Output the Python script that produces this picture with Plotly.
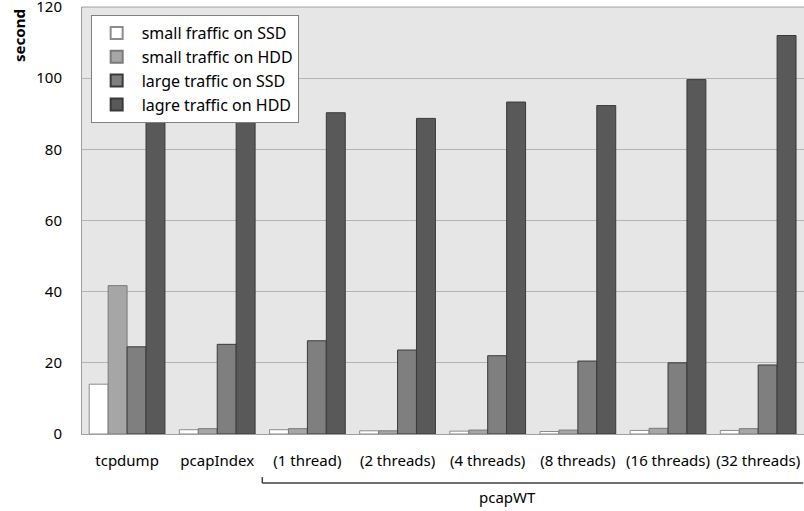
import plotly.graph_objects as go

categories = ["tcpdump", "pcapIndex", "(1 thread)", "(2 threads)", "(4 threads)",
              "(8 threads)", "(16 threads)", "(32 threads)"]
series_names = ["small fraffic on SSD", "small traffic on HDD",
                "large traffic on SSD", "lagre traffic on HDD"]
small_ssd = [14.0, 1.2, 1.2, 0.9, 0.8, 0.7, 1.0, 1.0]
small_hdd = [41.7, 1.5, 1.5, 0.9, 1.1, 1.1, 1.6, 1.5]
large_ssd = [24.5, 25.2, 26.2, 23.6, 22.0, 20.5, 20.0, 19.4]
large_hdd = [88.0, 88.5, 90.3, 88.7, 93.3, 92.3, 99.6, 112.0]
y_ticks = [0, 20, 40, 60, 80, 100, 120]

colors = ["#ffffff", "#a6a6a6", "#7f7f7f", "#595959"]
lines = ["#8c8c8c", "#7a7a7a", "#3a3a3a", "#3a3a3a"]
font = "Noto Sans, DejaVu Sans, sans-serif"

fig = go.Figure()
for name, vals, c, lc in zip(series_names, [small_ssd, small_hdd, large_ssd, large_hdd], colors, lines):
    fig.add_trace(go.Bar(x=categories, y=vals, name=name,
                         marker=dict(color=c, line=dict(color=lc, width=1))))

fig.update_layout(
    width=804, height=511,
    margin=dict(l=82, r=0, t=7, b=77, autoexpand=False),
    barmode="group", bargap=0.16, bargroupgap=0,
    plot_bgcolor="#e6e6e6", paper_bgcolor="#ffffff",
    font=dict(family=font, size=15, color="#000000"),
    legend=dict(x=0.012, y=0.981, xanchor="left", yanchor="top",
                bgcolor="#ffffff", bordercolor="#808080", borderwidth=1,
                font=dict(size=16), tracegroupgap=0, itemsizing="constant",
                itemwidth=40),
    xaxis=dict(type="category", showgrid=False, ticks="", tickfont=dict(size=15),
               showline=True, linecolor="#a0a0a0", linewidth=1, automargin=False,
               ticklabelstandoff=13),
    yaxis=dict(range=[0, 120.01], tickvals=y_ticks, showgrid=True, gridcolor="#b4b4b4",
               gridwidth=1, showline=True, linecolor="#a0a0a0", ticks="", zeroline=False,
               tickfont=dict(size=15), automargin=False, ticklabelstandoff=16,
               ticklabeloverflow="allow"),
    shapes=[
        dict(type="line", xref="x", yref="paper", x0=1.5, x1=7.5, y0=-0.115, y1=-0.115,
             line=dict(color="#404040", width=1.5)),
        dict(type="line", xref="x", yref="paper", x0=1.5, x1=1.5, y0=-0.115, y1=-0.101,
             line=dict(color="#404040", width=1.5)),
        dict(type="line", xref="paper", yref="paper", x0=0, x1=1, y0=1, y1=1,
             line=dict(color="#a0a0a0", width=1)),
    ],
    annotations=[
        dict(text="pcapWT", xref="x", yref="paper", x=4.22, y=-0.148, showarrow=False,
             xanchor="center", yanchor="middle", font=dict(size=15)),
        dict(text="<b>second</b>", xref="paper", yref="paper", x=-0.088, y=1.0,
             textangle=-90, showarrow=False, xanchor="center", yanchor="top",
             font=dict(size=15)),
    ],
)

fig.write_html("out.html", config={"displayModeBar": False},
               post_script="document.body.style.margin='0px';document.body.style.overflow='hidden';")
